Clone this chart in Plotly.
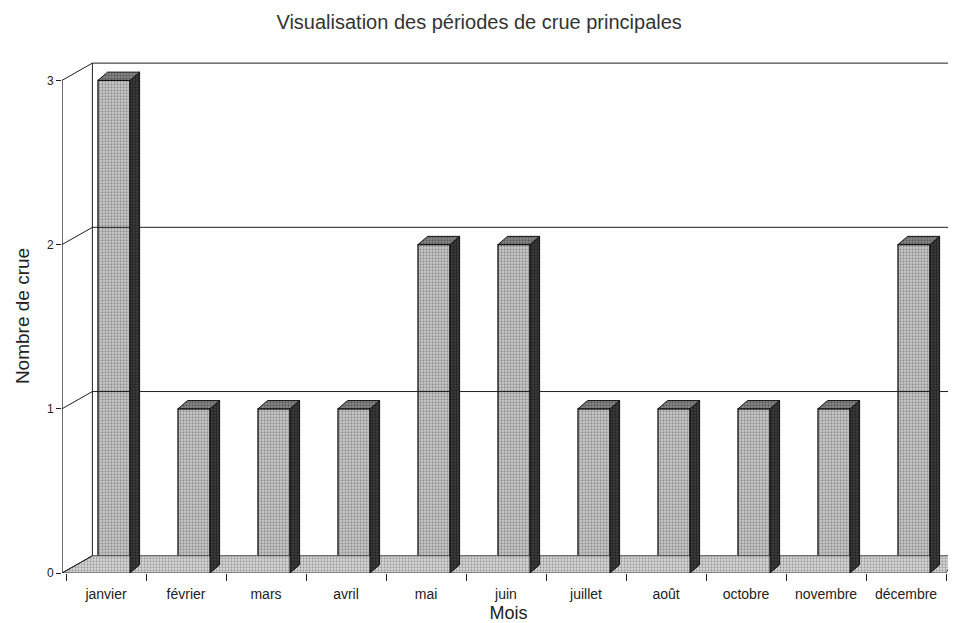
import plotly.graph_objects as go

# ---------------- data ----------------
months = ["janvier", "février", "mars", "avril", "mai", "juin",
          "juillet", "août", "octobre", "novembre", "décembre"]
crues = [3, 1, 1, 1, 2, 2, 1, 1, 1, 1, 2]
y_ticks = [0, 1, 2, 3]

# ---------------- style / 3D emulation ----------------
X0 = -0.55          # front-left corner of the box (x data units)
X_END = 10.6125
Y_TOP = 3.13
BAR_OFFSET = 0.10
BAR_W = 0.40
BAR_DX, BAR_DY = 0.12, 0.05
WALL_DX, WALL_DY = 0.38, 0.105
FLOOR_END_DX = 0.13
LINE = "#1e1e1e"

idx = list(range(len(months)))

fig = go.Figure()

# floor
x_last = len(months) - 0.5
fig.add_trace(go.Scatter(
    x=[X0, x_last, x_last + FLOOR_END_DX, X0 + WALL_DX, X0],
    y=[0, 0, WALL_DY, WALL_DY, 0],
    mode="lines", fill="toself", line=dict(color="#444", width=1),
    fillcolor="#d8d8d8",
    fillpattern=dict(shape=".", fgcolor="#606060", bgcolor="#dcdcdc", size=3, solidity=0.45),
    hoverinfo="skip", showlegend=False))

# back wall gridlines
for k in y_ticks[1:]:
    fig.add_trace(go.Scatter(
        x=[X0 + WALL_DX, X_END + 0.5], y=[k + WALL_DY, k + WALL_DY],
        mode="lines", line=dict(color=LINE, width=1), hoverinfo="skip", showlegend=False))
# diagonals from the front axis to the back wall
for k in y_ticks:
    fig.add_trace(go.Scatter(
        x=[X0, X0 + WALL_DX], y=[k, k + WALL_DY],
        mode="lines", line=dict(color=LINE, width=1), hoverinfo="skip",
        showlegend=False, cliponaxis=False))
# back wall left edge
fig.add_trace(go.Scatter(
    x=[X0 + WALL_DX, X0 + WALL_DX], y=[WALL_DY, y_ticks[-1] + WALL_DY],
    mode="lines", line=dict(color=LINE, width=1), hoverinfo="skip", showlegend=False))
# front y-axis line
fig.add_trace(go.Scatter(
    x=[X0, X0], y=[0, y_ticks[-1]],
    mode="lines", line=dict(color=LINE, width=1.3), hoverinfo="skip",
    showlegend=False, cliponaxis=False))

# bar side faces and top faces
side_x, side_y, top_x, top_y = [], [], [], []
for i, v in zip(idx, crues):
    xl = i + BAR_OFFSET - BAR_W / 2
    xr = i + BAR_OFFSET + BAR_W / 2
    side_x += [xr, xr + BAR_DX, xr + BAR_DX, xr, xr, None]
    side_y += [0, BAR_DY, v + BAR_DY, v, 0, None]
    top_x += [xl, xl + BAR_DX, xr + BAR_DX, xr, xl, None]
    top_y += [v, v + BAR_DY, v + BAR_DY, v, v, None]

fig.add_trace(go.Scatter(
    x=side_x, y=side_y, mode="lines", fill="toself",
    line=dict(color="#111", width=1), fillcolor="#2e2e2e",
    fillpattern=dict(shape=".", fgcolor="#0a0a0a", bgcolor="#3c3c3c", size=3, solidity=0.45),
    hoverinfo="skip", showlegend=False))
fig.add_trace(go.Scatter(
    x=top_x, y=top_y, mode="lines", fill="toself",
    line=dict(color="#111", width=1), fillcolor="#7a7a7a",
    fillpattern=dict(shape=".", fgcolor="#303030", bgcolor="#8a8a8a", size=3, solidity=0.45),
    hoverinfo="skip", showlegend=False))

# bar front faces
fig.add_trace(go.Bar(
    x=[i + BAR_OFFSET for i in idx], y=crues, width=BAR_W,
    marker=dict(color="#c4c4c4", line=dict(color="#111", width=1.3),
                pattern=dict(shape=".", fgcolor="#555555", bgcolor="#cdcdcd", size=3, solidity=0.45)),
    hovertext=months, hoverinfo="text+y", showlegend=False))

fig.update_layout(
    width=948, height=615,
    margin=dict(l=54, r=1, t=51, b=50),
    paper_bgcolor="white", plot_bgcolor="white",
    barmode="overlay",
    font=dict(family="Liberation Sans, Arial, sans-serif", color="#222"),
    title=dict(text="Visualisation des périodes de crue principales",
               x=0.497, xanchor="center", y=0.978, yanchor="middle",
               font=dict(size=20, color="#333")),
    xaxis=dict(
        range=[X0, X_END], showgrid=False, zeroline=False, showline=False,
        automargin=False,
        tickmode="array", tickvals=idx, ticktext=months, ticks="",
        ticklabelstandoff=11,
        tickfont=dict(size=14, color="#222"),
        minor=dict(tickmode="array", tickvals=[i - 0.5 for i in range(len(months) + 1)],
                   ticks="outside", ticklen=7, tickcolor=LINE, showgrid=False),
        title=dict(text="Mois", font=dict(size=18, color="#222"), standoff=9),
    ),
    yaxis=dict(
        range=[0, Y_TOP], showgrid=False, zeroline=False, showline=False,
        automargin=False,
        tickmode="array", tickvals=y_ticks, ticks="outside", ticklen=5, tickcolor=LINE,
        tickfont=dict(size=12, color="#222"),
        title=dict(text="Nombre de crue", font=dict(size=19, color="#222"), standoff=12),
    ),
)

fig.write_html("out.html")
